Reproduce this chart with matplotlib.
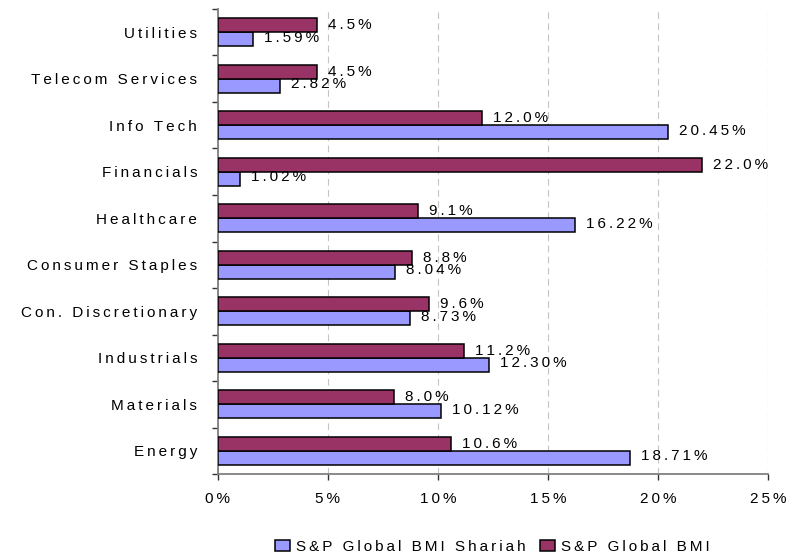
import matplotlib
matplotlib.use('Agg')
import matplotlib.pyplot as plt
import numpy as np

plt.rcParams['font.family'] = ['Liberation Sans', 'DejaVu Sans']

sectors = ['Energy', 'Materials', 'Industrials', 'Con. Discretionary', 'Consumer Staples',
           'Healthcare', 'Financials', 'Info Tech', 'Telecom Services', 'Utilities']
shariah = [18.71, 10.12, 12.30, 8.73, 8.04, 16.22, 1.02, 20.45, 2.82, 1.59]
bmi = [10.6, 8.0, 11.2, 9.6, 8.8, 9.1, 22.0, 12.0, 4.5, 4.5]
xticks = [0, 5, 10, 15, 20, 25]


def spaced(s):
    # wide letter spacing like the original export
    return '\u2009'.join(s)


FS = 11

fig = plt.figure(figsize=(7.97, 5.58), dpi=100)
ax = fig.add_axes([0.2735, 0.1505, 0.690, 0.8334])

y = np.arange(len(sectors))
h = 0.30
b1 = ax.barh(y - h / 2, shariah, height=h, color='#9999FF', edgecolor='black', linewidth=1.1,
             label=spaced('S&P Global BMI Shariah'), zorder=3)
b2 = ax.barh(y + h / 2, bmi, height=h, color='#993366', edgecolor='black', linewidth=1.1,
             label=spaced('S&P Global BMI'), zorder=3)

for v, yy in zip(shariah, y - h / 2):
    ax.text(v + 0.5, yy + 0.03, spaced(f'{v:.2f}%'), va='center', ha='left', fontsize=FS, zorder=4)
for v, yy in zip(bmi, y + h / 2):
    ax.text(v + 0.5, yy, spaced(f'{v:.1f}%'), va='center', ha='left', fontsize=FS, zorder=4)

ax.set_xlim(0, 25)
ax.set_ylim(-0.5, len(sectors) - 0.5)
ax.set_xticks(xticks)
ax.set_xticklabels([spaced(f'{t}%') for t in xticks], fontsize=FS)
ax.set_yticks(y)
ax.set_yticklabels([spaced(s) for s in sectors], fontsize=FS)
ax.set_yticks(np.arange(len(sectors) + 1) - 0.5, minor=True)
ax.tick_params(axis='y', which='major', length=0, pad=15)
ax.tick_params(axis='y', which='minor', length=4, width=1, color='#333333', direction='out')
ax.tick_params(axis='x', length=4, width=1, color='#333333', pad=9)

ax.xaxis.grid(True, color='#c4c4c4', linestyle=(0, (6, 4)), linewidth=0.8, zorder=0)
for s in ['top', 'right']:
    ax.spines[s].set_visible(False)
for s in ['left', 'bottom']:
    ax.spines[s].set_color('#808080')
    ax.spines[s].set_linewidth(1.3)

fig.legend(handles=[b1, b2], loc='center', bbox_to_anchor=(0.618, 0.02), ncol=2,
           frameon=False, fontsize=FS, handlelength=1.0, handleheight=0.75,
           handletextpad=0.4, columnspacing=0.9, borderpad=0)

fig.savefig('out.png', dpi=100)
